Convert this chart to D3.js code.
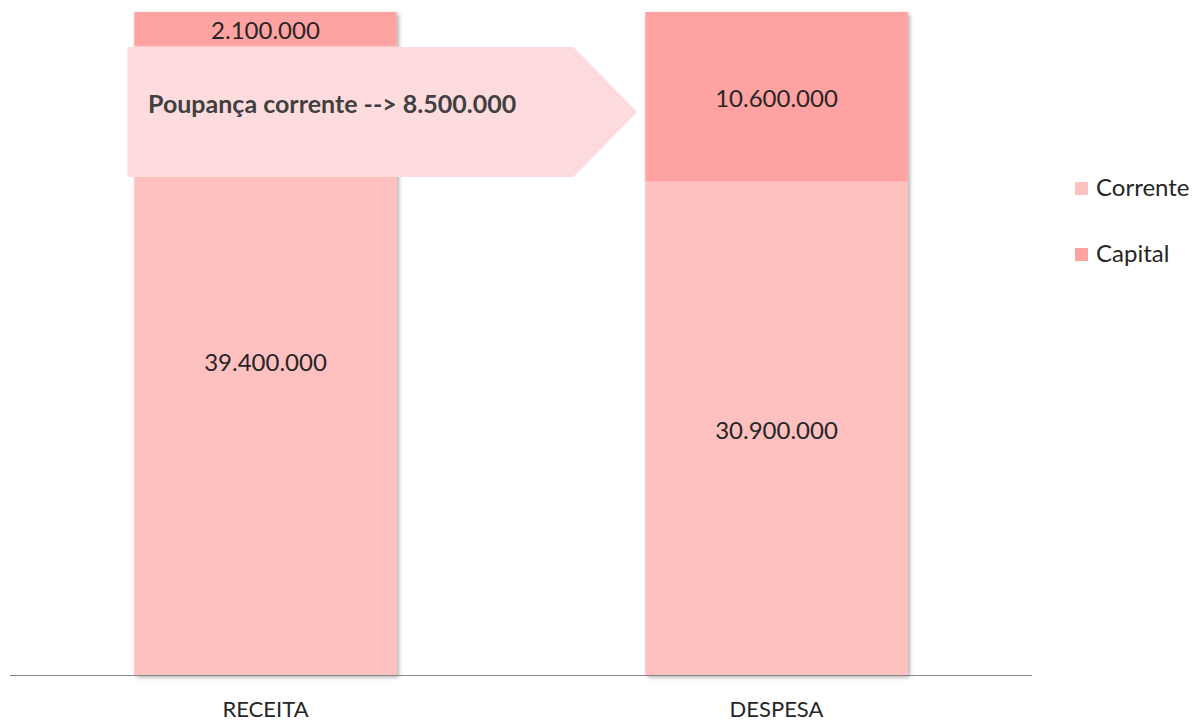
<!DOCTYPE html>
<html>
<head>
<meta charset="utf-8">
<script src="https://cdn.jsdelivr.net/npm/d3@7"></script>
<style>
  body { margin: 0; background: #fff; }
  text { font-family: Lato, "Noto Sans", sans-serif; fill: #262626; }
</style>
</head>
<body>
<script>
var width = 1195,
    height = 722;

// data
var categories = ["RECEITA", "DESPESA"];
var series = ["Corrente", "Capital"];
var corrente = [39400000, 30900000];
var capital = [2100000, 10600000];
var poupanca = 8500000;

var colors = { "Corrente": "#ffc0c0", "Capital": "#ffa2a2" };

var fmt = function(v) { return d3.format(",")(v).replace(/,/g, "."); };

var rows = categories.map(function(c, i) {
  return { cat: c, Corrente: corrente[i], Capital: capital[i] };
});
var stacked = d3.stack().keys(series)(rows);

var svg = d3.select("body").append("svg")
    .attr("width", width)
    .attr("height", height);

var defs = svg.append("defs");
var shadow = defs.append("filter")
    .attr("id", "shadow")
    .attr("x", "-5%").attr("y", "-5%")
    .attr("width", "115%").attr("height", "115%");
shadow.append("feDropShadow")
    .attr("dx", 2).attr("dy", 2)
    .attr("stdDeviation", 2)
    .attr("flood-color", "#000")
    .attr("flood-opacity", 0.35);

var x = d3.scaleBand()
    .domain(categories)
    .range([10, 1032])
    .paddingInner(0.487)
    .paddingOuter(0.2435);

var y = d3.scaleLinear()
    .domain([0, d3.max(rows, function(d) { return d.Corrente + d.Capital; })])
    .range([675, 12]);

// bars with shadow
var barG = svg.append("g");
barG.selectAll("rect.shadow")
    .data(categories)
  .enter().append("rect")
    .attr("x", function(d) { return x(d); })
    .attr("y", function(d, i) { return y(corrente[i] + capital[i]); })
    .attr("width", x.bandwidth())
    .attr("height", function(d, i) { return y(0) - y(corrente[i] + capital[i]); })
    .attr("fill", "#ffc0c0")
    .attr("filter", "url(#shadow)");

stacked.forEach(function(layer) {
  barG.selectAll("rect." + layer.key)
      .data(layer)
    .enter().append("rect")
      .attr("class", layer.key)
      .attr("x", function(d) { return x(d.data.cat); })
      .attr("y", function(d) { return y(d[1]); })
      .attr("width", x.bandwidth())
      .attr("height", function(d) { return y(d[0]) - y(d[1]); })
      .attr("fill", colors[layer.key]);
});

// value labels
stacked.forEach(function(layer) {
  svg.append("g").selectAll("text")
      .data(layer)
    .enter().append("text")
      .attr("x", function(d) { return x(d.data.cat) + x.bandwidth() / 2; })
      .attr("y", function(d) { return (y(d[0]) + y(d[1])) / 2 + 2; })
      .attr("dy", ".35em")
      .attr("text-anchor", "middle")
      .style("font-size", "24px")
      .text(function(d) { return fmt(d[1] - d[0]); });
});

// axis baseline
svg.append("line")
    .attr("x1", 10).attr("x2", 1032)
    .attr("y1", y(0) + 0.5).attr("y2", y(0) + 0.5)
    .attr("stroke", "#868686")
    .attr("stroke-width", 1.2);

svg.append("g").selectAll("text")
    .data(categories)
  .enter().append("text")
    .attr("x", function(d) { return x(d) + x.bandwidth() / 2; })
    .attr("y", 709)
    .attr("dy", ".35em")
    .attr("text-anchor", "middle")
    .style("font-size", "22px")
    .text(function(d) { return d; });

// arrow callout for poupanca corrente
var ax0 = x("RECEITA") - 7,
    ax1 = x("DESPESA") - 8,
    ay0 = 47,
    ay1 = 177,
    tip = 64;
svg.append("path")
    .attr("d", "M" + ax0 + "," + ay0 +
               "L" + (ax1 - tip) + "," + ay0 +
               "L" + ax1 + "," + ((ay0 + ay1) / 2) +
               "L" + (ax1 - tip) + "," + ay1 +
               "L" + ax0 + "," + ay1 + "Z")
    .attr("fill", "#fedcde");

svg.append("text")
    .attr("x", 148)
    .attr("y", 104)
    .attr("dy", ".35em")
    .style("font-size", "25px")
    .style("font-weight", "bold")
    .style("fill", "#404040")
    .text("Poupança corrente --> " + fmt(poupanca));

// legend
var legend = svg.append("g").selectAll("g")
    .data(series)
  .enter().append("g")
    .attr("transform", function(d, i) { return "translate(1075," + (188 + i * 66) + ")"; });
legend.append("rect")
    .attr("x", 0).attr("y", -6)
    .attr("width", 13).attr("height", 13)
    .attr("fill", function(d) { return colors[d]; });
legend.append("text")
    .attr("x", 21)
    .attr("dy", ".35em")
    .style("font-size", "24px")
    .text(function(d) { return d; });
</script>
</body>
</html>
